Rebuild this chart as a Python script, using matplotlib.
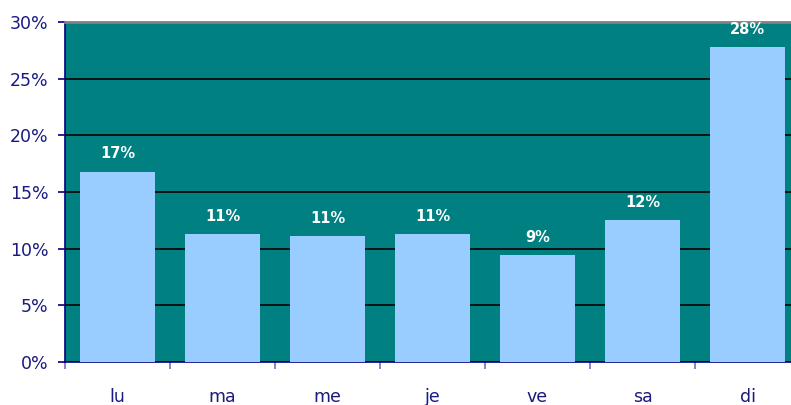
import matplotlib.pyplot as plt
import numpy as np

days = ["lu", "ma", "me", "je", "ve", "sa", "di"]
shares = [16.8, 11.3, 11.1, 11.3, 9.4, 12.5, 27.8]
labels = ["17%", "11%", "11%", "11%", "9%", "12%", "28%"]
yticks = [0, 5, 10, 15, 20, 25, 30]

W, H = 791, 405
fig = plt.figure(figsize=(W / 100, H / 100), dpi=100)
# plot area runs past the right edge of the image
ax = fig.add_axes([65 / W, 1 - 362 / H, 735 / W, 340 / H])
ax.set_facecolor("#008080")

x = np.arange(len(days))
ax.bar(x, shares, width=0.72, color="#99CCFF", zorder=3)
for xi, v, lab in zip(x, shares, labels):
    # the top label is squeezed under the frame, as in the original
    y = min(v + 0.9, 28.75)
    ax.text(xi, y, lab, ha="center", va="bottom", color="white",
            fontsize=10.5, fontweight="bold", zorder=4)

ax.set_xlim(-0.5, len(days) - 0.5)
ax.set_ylim(0, 30)
ax.set_yticks(yticks)
ax.set_yticklabels([f"{t}%" for t in yticks])
ax.yaxis.grid(True, color="black", linewidth=1.2, zorder=1)

ax.set_xticks(np.arange(len(days) + 1) - 0.5)
ax.set_xticklabels([])
ax.set_xticks(x, minor=True)
ax.set_xticklabels(days, minor=True)
ax.tick_params(axis="x", which="minor", length=0, pad=19, labelsize=12.5,
               labelcolor="#1a1a80")
ax.tick_params(axis="x", which="major", length=5, color="#7070c0", width=1.2)
ax.tick_params(axis="y", length=5, color="#000080", width=1.2, labelsize=12.5,
               labelcolor="#1a1a80", pad=7)

ax.spines["left"].set_color("#000080")
ax.spines["bottom"].set_color("#000080")
ax.spines["left"].set_linewidth(1.2)
ax.spines["bottom"].set_linewidth(1.2)
ax.spines["top"].set_color("#808080")
ax.spines["top"].set_linewidth(2)
ax.spines["right"].set_visible(False)

fig.savefig("out.png", dpi=100)
